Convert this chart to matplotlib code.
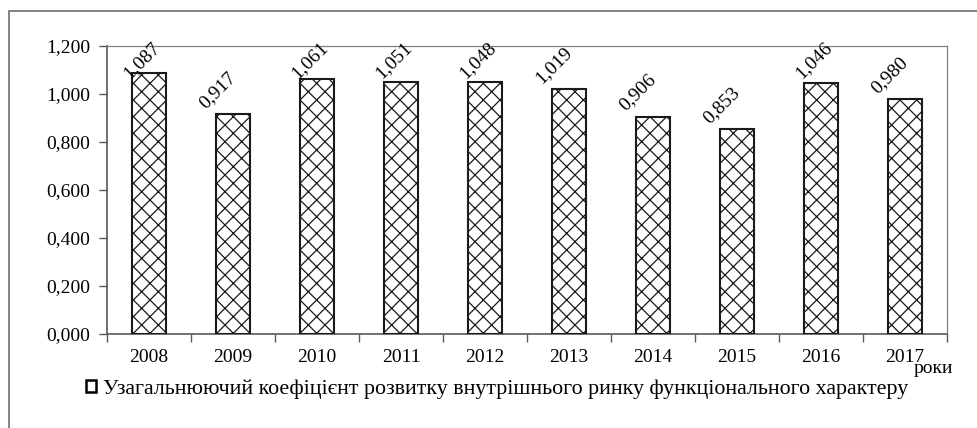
import matplotlib.pyplot as plt
from matplotlib.patches import Rectangle

years = ['2008', '2009', '2010', '2011', '2012', '2013', '2014', '2015', '2016', '2017']
values = [1.087, 0.917, 1.061, 1.051, 1.048, 1.019, 0.906, 0.853, 1.046, 0.980]
series_name = 'Узагальнюючий коефіцієнт розвитку внутрішнього ринку функціонального характеру'
yticks = [0.0, 0.2, 0.4, 0.6, 0.8, 1.0, 1.2]

plt.rcParams['font.family'] = ['Liberation Serif', 'DejaVu Serif']
plt.rcParams['hatch.linewidth'] = 0.9

def fmt(v):
  return '{:.3f}'.format(v).replace('.', ',')

fig = plt.figure(figsize=(9.78, 4.28), dpi=100)
ax = fig.add_axes([107 / 978, 1 - 334 / 428, 840 / 978, 288 / 428])

# outer frame (only left and top edges fall inside the picture)
fig.patches.append(Rectangle((9 / 978, -0.2), 1.5, 1 - 11 / 428 + 0.2,
                             transform=fig.transFigure, fill=False,
                             edgecolor='#6e6e6e', lw=1.2, zorder=0))

x = list(range(len(years)))
ax.bar(x, values, width=0.41, color='white', edgecolor='#1a1a1a',
       linewidth=1.5, hatch='xx', zorder=3)

ax.set_xlim(-0.5, len(years) - 0.5)
ax.set_ylim(0, 1.2)
ax.set_yticks(yticks)
ax.set_yticklabels([fmt(v) for v in yticks], fontsize=14)
ax.set_xticks(x)
ax.set_xticklabels(years, fontsize=14)
ax.set_xticks([i - 0.5 for i in range(len(years) + 1)], minor=True)
ax.tick_params(axis='x', which='major', length=0, pad=11)
ax.tick_params(axis='x', which='minor', length=6, width=1.0, color='#595959', direction='out')
ax.tick_params(axis='y', length=6, width=1.0, color='#595959', direction='out', pad=6)

for side in ['left', 'bottom']:
  ax.spines[side].set_color('#595959')
  ax.spines[side].set_linewidth(1.2)
for side in ['top', 'right']:
  ax.spines[side].set_color('#7f7f7f')
  ax.spines[side].set_linewidth(0.9)

# rotated value labels, pushed down when they would leave the plot area
for xi, v in zip(x, values):
  ly = v + 0.1
  lx = xi - 0.18
  if ly > 1.14:
    ly = 1.14
    lx = xi - 0.09
  ax.text(lx, ly, fmt(v), rotation=45, ha='center', va='center',
          fontsize=14, rotation_mode='anchor', zorder=4)

ax.text(0.96, -0.135, 'роки', transform=ax.transAxes, fontsize=14,
        ha='left', va='baseline')

handle = Rectangle((0, 0), 1, 1, facecolor='white', edgecolor='black', lw=1.8)
fig.legend([handle], [series_name], loc='center', bbox_to_anchor=(497 / 978, 1 - 389 / 428),
           frameon=False, fontsize=15.8, handlelength=0.45, handleheight=0.45,
           handletextpad=0.3)

fig.savefig('out.png', dpi=100)
